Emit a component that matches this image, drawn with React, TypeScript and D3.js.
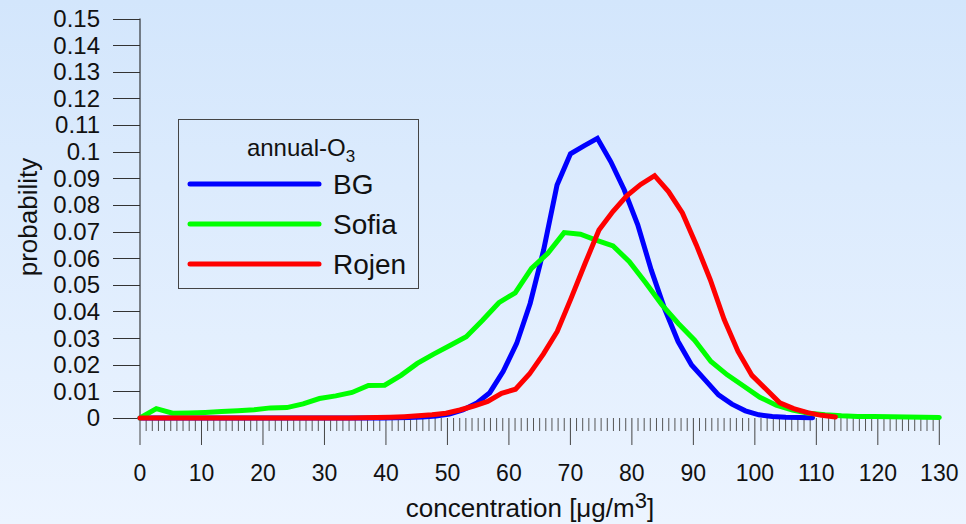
import React from "react";
import * as d3 from "d3";

// ---- data ----
const SERIES_NAMES = ["BG", "Sofia", "Rojen"];
const SERIES_COLORS = ["#0000ff", "#00ff00", "#ff0000"];
const LEGEND_TITLE = "annual-O";

// concentration range covered by each series' bins
const BG_X_MAX = 109.4;
const SOFIA_X_MAX = 130;
const ROJEN_X_MAX = 113.1;

const bgValues = [
  0, 0, 0, 0, 0, 0, 0, 0, 0, 0,
  0, 0, 0, 0, 0, 0, 0, 0, 0, 0.0001,
  0.0002, 0.0004, 0.0007, 0.0015, 0.003, 0.0055, 0.0095, 0.0175, 0.028, 0.043,
  0.063, 0.0875, 0.0992, 0.1022, 0.105, 0.0962, 0.0856, 0.0725, 0.0556, 0.041,
  0.0287, 0.0199, 0.0143, 0.0087, 0.0052, 0.0027, 0.0012, 0.0006, 0.0003, 0.0002,
  0.0001,
];

const sofiaValues = [
  0, 0.0035, 0.0018, 0.0019, 0.0021, 0.0024, 0.0027, 0.0031, 0.0038, 0.0039,
  0.0053, 0.0073, 0.0083, 0.0096, 0.0122, 0.0123, 0.016, 0.0205, 0.024, 0.0272,
  0.0305, 0.0367, 0.0433, 0.047, 0.0562, 0.0618, 0.0696, 0.069, 0.0667, 0.0646,
  0.0587, 0.0508, 0.0425, 0.0355, 0.0292, 0.0212, 0.0162, 0.012, 0.0078, 0.0048,
  0.003, 0.0018, 0.0012, 0.0008, 0.0006, 0.0006, 0.0005, 0.0004, 0.0003, 0.0002,
];

const rojenValues = [
  0, 0, 0, 0, 0, 0, 0, 0, 0, 0,
  0, 0, 0, 0, 0, 0, 0.0001, 0.0002, 0.0003, 0.0005,
  0.0008, 0.0012, 0.0018, 0.003, 0.0045, 0.0062, 0.0093, 0.0108, 0.0165, 0.024,
  0.0325, 0.045, 0.058, 0.0706, 0.0775, 0.0834, 0.0877, 0.091, 0.085, 0.077,
  0.065, 0.052, 0.037, 0.025, 0.016, 0.0109, 0.0057, 0.0035, 0.002, 0.001,
  0.0004,
];

const yTicks = [0, 0.01, 0.02, 0.03, 0.04, 0.05, 0.06, 0.07, 0.08, 0.09, 0.1, 0.11, 0.12, 0.13, 0.14, 0.15];
const xMajorTicks = [0, 10, 20, 30, 40, 50, 60, 70, 80, 90, 100, 110, 120, 130];

type Pt = { x: number; y: number };
function toPoints(values: number[], xMax: number): Pt[] {
  const step = xMax / (values.length - 1);
  return values.map((v, i) => ({ x: i * step, y: v }));
}

const series = [
  toPoints(bgValues, BG_X_MAX),
  toPoints(sofiaValues, SOFIA_X_MAX),
  toPoints(rojenValues, ROJEN_X_MAX),
];

const W = 966;
const H = 524;
const FONT = "'Liberation Sans', Arial, Helvetica, sans-serif";

export default function App() {
  const x = d3.scaleLinear().domain([0, 130]).range([140, 939.3]);
  const y = d3.scaleLinear().domain([0, 0.15]).range([418, 18.5]);
  const line = d3
    .line<Pt>()
    .x((d) => x(d.x))
    .y((d) => y(d.y));

  const minorTicks = d3.range(0, 131, 1);
  const fmt = (v: number) => String(+v.toFixed(2));

  const legendX = 178;
  const legendY = 119;
  const legendW = 240;
  const legendH = 169;
  const rowY = [184, 224, 264];

  return (
    <svg
      width={W}
      height={H}
      style={{ position: "absolute", left: 0, top: 0, display: "block" }}
      fontFamily={FONT}
    >
      <defs>
        <linearGradient id="bg" x1="0" y1="0" x2="0" y2="1">
          <stop offset="0" stopColor="#d3e6fc" />
          <stop offset="1" stopColor="#ecf4ff" />
        </linearGradient>
      </defs>
      <rect x={0} y={0} width={W} height={H} fill="url(#bg)" />

      {/* y axis */}
      <line x1={x(0)} x2={x(0)} y1={y(0.15)} y2={y(0)} stroke="#111" strokeWidth={1} />
      {yTicks.map((t) => (
        <g key={"y" + t}>
          <line x1={113} x2={x(0)} y1={Math.round(y(t)) + 0.5} y2={Math.round(y(t)) + 0.5} stroke="#333" strokeWidth={1} />
          <text x={100} y={y(t)} dy="0.35em" textAnchor="end" fontSize={24} fill="#111">
            {fmt(t)}
          </text>
        </g>
      ))}

      {/* x axis ticks */}
      {minorTicks.map((t) => {
        const major = t % 10 === 0;
        return (
          <line
            key={"xm" + t}
            x1={x(t)}
            x2={x(t)}
            y1={y(0)}
            y2={major ? 445 : 431}
            stroke={major ? "#444" : "#555"}
            strokeWidth={1}
          />
        );
      })}
      {xMajorTicks.map((t) => (
        <text key={"xl" + t} x={x(t)} y={473} dy="0.35em" textAnchor="middle" fontSize={23} fill="#111">
          {t}
        </text>
      ))}

      {/* axis titles */}
      <text
        transform={`translate(28,217) rotate(-90)`}
        textAnchor="middle"
        dy="0.35em"
        fontSize={26}
        fill="#111"
      >
        probability
      </text>
      <text x={530} y={517} textAnchor="middle" fontSize={26} fill="#111">
        concentration [μg/m<tspan dy={-9} fontSize={22}>3</tspan>
        <tspan dy={9}>]</tspan>
      </text>

      {/* series */}
      {series.map((pts, i) => (
        <path
          key={SERIES_NAMES[i]}
          d={line(pts) || ""}
          fill="none"
          stroke={SERIES_COLORS[i]}
          strokeWidth={5}
          strokeLinecap="round"
          strokeLinejoin="miter"
        />
      ))}

      {/* legend */}
      <rect x={legendX + 0.5} y={legendY + 0.5} width={legendW} height={legendH} fill="none" stroke="#444" strokeWidth={1} />
      <text x={301} y={156} textAnchor="middle" fontSize={24} fill="#111">
        {LEGEND_TITLE}
        <tspan dy={6} fontSize={17}>3</tspan>
      </text>
      {SERIES_NAMES.map((name, i) => (
        <g key={"lg" + name}>
          <line x1={190} x2={319} y1={rowY[i]} y2={rowY[i]} stroke={SERIES_COLORS[i]} strokeWidth={5} strokeLinecap="round" />
          <text x={333} y={rowY[i]} dy="0.36em" fontSize={28} fill="#111">
            {name}
          </text>
        </g>
      ))}
    </svg>
  );
}
